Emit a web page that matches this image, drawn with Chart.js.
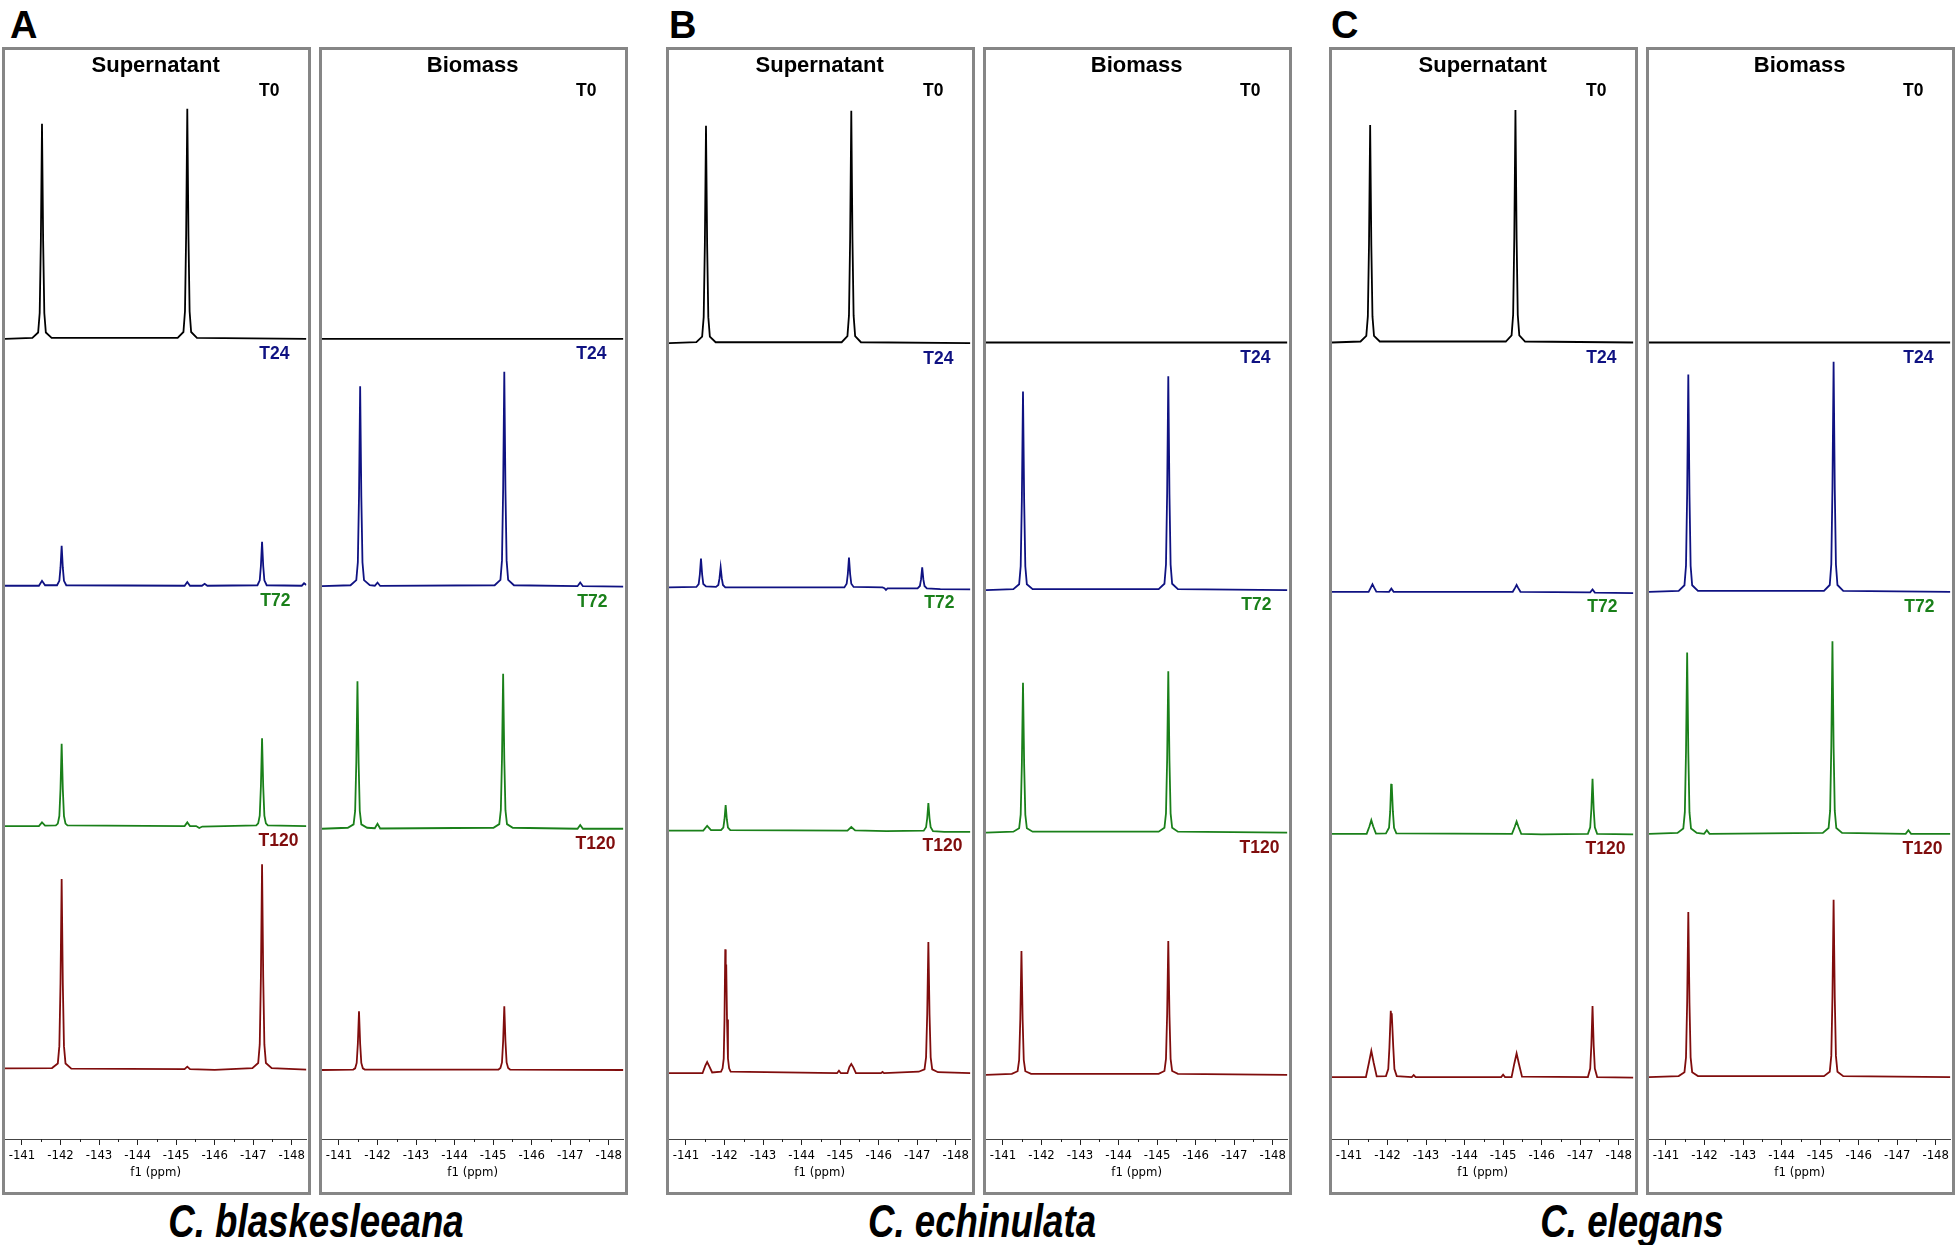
<!DOCTYPE html>
<html>
<head>
<meta charset="utf-8">
<title>19F NMR spectra - supernatant and biomass</title>
<script src="https://cdn.jsdelivr.net/npm/chart.js@4.4.1/dist/chart.umd.min.js"></script>
<style>
  html, body { margin: 0; padding: 0; background: #fff; }
  body { position: relative; width: 1960px; height: 1245px; overflow: hidden;
         font-family: 'Liberation Sans', Arial, sans-serif; }
  .panel { position: absolute; top: 47px; width: 303px; height: 1142px; border: 3px solid #868686; }
  .panel canvas { display: block; }
  .letter { position: absolute; top: 2px; font-size: 38px; font-weight: bold; line-height: 46px; }
  .species { position: absolute; top: 1197px; width: 500px; margin-left: -250px; text-align: center;
             font-size: 47px; font-weight: bold; font-style: italic; line-height: 48px;
             transform: scaleX(0.78); }
</style>
</head>
<body>
<script>
// axis
const ppmMin = -148.38, ppmMax = -140.56;
const majorTicks = [-141, -142, -143, -144, -145, -146, -147, -148];
const minorTicks = [-141.5, -142.5, -143.5, -144.5, -145.5, -146.5, -147.5];

const timeLabels = ['T0', 'T24', 'T72', 'T120'];
const fractionLabels = ['Supernatant', 'Biomass'];
const speciesNames = ['C. blaskesleeana', 'C. echinulata', 'C. elegans'];
const panelLetters = ['A', 'B', 'C'];

// spectra: [ppm, intensity] (intensity in units of one trace band)
// A - C. blaskesleeana
const aSupT0 = [[-140.56,0],[-141.27,.004],[-141.42,.026],[-141.46,.106],[-141.49,.397],[-141.52,.882],[-141.55,.397],[-141.58,.106],[-141.62,.026],[-141.77,.004],
  [-145.04,.004],[-145.19,.028],[-145.23,.113],[-145.26,.425],[-145.29,.944],[-145.32,.425],[-145.35,.113],[-145.39,.028],[-145.54,.004],[-148.38,0]];
const aSupT24 = [[-140.56,0],[-141.44,0],[-141.52,.02],[-141.6,.002],[-141.91,.002],[-141.97,.02],[-142.0,.074],[-142.03,.164],[-142.06,.074],[-142.09,.02],[-142.15,.002],
  [-145.22,0],[-145.29,.015],[-145.36,0],[-145.67,0],[-145.74,.008],[-145.81,0],
  [-147.11,.002],[-147.17,.022],[-147.2,.081],[-147.23,.18],[-147.26,.081],[-147.29,.022],[-147.35,.002],[-148.26,0],[-148.32,.01],[-148.38,.003]];
const aSupT72 = [[-140.56,0],[-141.44,0],[-141.52,.015],[-141.6,.002],[-141.88,.003],[-141.93,.01],[-141.97,.041],[-142.0,.152],[-142.03,.338],[-142.06,.152],[-142.09,.041],[-142.13,.01],[-142.18,.003],
  [-145.22,0],[-145.29,.015],[-145.36,0],[-145.52,0],[-145.6,-.008],[-145.68,-.002],
  [-147.08,.003],[-147.13,.011],[-147.17,.043],[-147.2,.162],[-147.23,.36],[-147.26,.162],[-147.29,.043],[-147.33,.011],[-147.38,.003],[-148.38,0]];
const aSupT120 = [[-140.56,.003],[-141.78,.004],[-141.93,.023],[-141.97,.094],[-142.0,.351],[-142.03,.78],[-142.06,.351],[-142.09,.094],[-142.13,.023],[-142.28,.002],
  [-145.22,0],[-145.29,.01],[-145.36,0],[-146.0,-.003],
  [-146.98,.004],[-147.13,.025],[-147.17,.101],[-147.2,.378],[-147.23,.84],[-147.26,.378],[-147.29,.101],[-147.33,.025],[-147.48,.004],[-148.38,-.002]];
const aBioT0 = [[-140.56,0],[-148.38,0]];
const aBioT24 = [[-140.56,0],[-141.30,.004],[-141.45,.025],[-141.49,.098],[-141.52,.369],[-141.55,.82],[-141.58,.369],[-141.61,.098],[-141.65,.025],[-141.8,.004],[-141.93,.002],[-142.0,.015],[-142.07,.001],
  [-145.04,.004],[-145.19,.026],[-145.23,.106],[-145.26,.396],[-145.29,.88],[-145.32,.396],[-145.35,.106],[-145.39,.026],[-145.54,.004],
  [-147.19,0],[-147.26,.015],[-147.33,0],[-148.38,-.002]];
const aBioT72 = [[-140.56,0],[-141.23,.004],[-141.38,.018],[-141.42,.073],[-141.45,.272],[-141.48,.605],[-141.51,.272],[-141.54,.073],[-141.58,.018],[-141.73,.004],[-141.93,.002],[-142.0,.02],[-142.07,.001],
  [-145.01,.004],[-145.16,.019],[-145.2,.076],[-145.23,.286],[-145.26,.636],[-145.29,.286],[-145.32,.076],[-145.36,.019],[-145.51,.004],
  [-147.19,0],[-147.26,.015],[-147.33,0],[-148.38,0]];
const aBioT120 = [[-140.56,0],[-141.37,.002],[-141.42,.007],[-141.46,.029],[-141.49,.108],[-141.52,.241],[-141.55,.108],[-141.58,.029],[-141.62,.007],[-141.67,.002],
  [-145.14,.002],[-145.19,.008],[-145.23,.031],[-145.26,.118],[-145.29,.262],[-145.32,.118],[-145.35,.031],[-145.39,.008],[-145.44,.002],[-148.38,0]];

// B - C. echinulata
const bSupT0 = [[-140.56,0],[-141.27,.004],[-141.42,.027],[-141.46,.107],[-141.49,.401],[-141.52,.892],[-141.55,.401],[-141.58,.107],[-141.62,.027],[-141.77,.004],
  [-145.04,.004],[-145.19,.029],[-145.23,.114],[-145.26,.429],[-145.29,.954],[-145.32,.429],[-145.35,.114],[-145.39,.029],[-145.54,.004],[-148.38,0]];
const bSupT24 = [[-140.56,0],[-141.27,.002],[-141.33,.014],[-141.36,.053],[-141.39,.118],[-141.42,.053],[-141.45,.014],[-141.52,.004],[-141.78,.002],[-141.84,.010],[-141.87,.037],[-141.90,.082],[-141.93,.037],[-141.96,.010],[-142.02,0],
  [-145.11,0],[-145.17,.015],[-145.2,.055],[-145.23,.123],[-145.26,.055],[-145.29,.015],[-145.35,.002],[-146.1,0],[-146.15,-.003],[-146.19,-.01],[-146.23,-.004],
  [-147.01,-.004],[-147.07,.006],[-147.10,.033],[-147.13,.082],[-147.16,.033],[-147.19,.006],[-147.25,-.004],[-147.6,-.007],[-148.38,-.008]];
const bSupT72 = [[-140.56,0],[-141.45,0],[-141.55,.02],[-141.65,.002],[-141.91,.002],[-141.97,.013],[-142.0,.047],[-142.03,.105],[-142.06,.047],[-142.09,.013],[-142.15,.002],
  [-145.19,0],[-145.29,.015],[-145.39,.001],[-146.2,-.002],
  [-147.17,0],[-147.23,.014],[-147.26,.051],[-147.29,.113],[-147.32,.051],[-147.35,.014],[-147.41,-.002],[-147.7,-.005],[-148.38,-.005]];
const bSupT120 = [[-140.56,0],[-141.43,0],[-141.5,.03],[-141.55,.046],[-141.6,.03],[-141.68,.003],[-141.91,.006],[-141.95,.02],[-141.98,.06],[-142.0,.22],[-142.02,.508],[-142.032,.41],[-142.045,.446],[-142.065,.22],[-142.09,.06],[-142.12,.02],[-142.16,.006],
  [-144.92,0],[-144.97,.01],[-145.02,0],[-145.19,0],[-145.24,.025],[-145.29,.038],[-145.34,.025],[-145.41,0],[-146.06,0],[-146.1,.005],[-146.14,0],
  [-147.04,.006],[-147.19,.016],[-147.23,.065],[-147.26,.242],[-147.29,.538],[-147.32,.242],[-147.35,.065],[-147.39,.016],[-147.54,.004],[-148.38,0]];
const bBioT0 = [[-140.56,0],[-148.38,0]];
const bBioT24 = [[-140.56,0],[-141.27,.004],[-141.42,.024],[-141.46,.098],[-141.49,.367],[-141.52,.815],[-141.55,.367],[-141.58,.098],[-141.62,.024],[-141.77,.004],
  [-145.04,.004],[-145.19,.026],[-145.23,.105],[-145.26,.395],[-145.29,.877],[-145.32,.395],[-145.35,.105],[-145.39,.026],[-145.54,.004],[-148.38,0]];
const bBioT72 = [[-140.56,0],[-141.27,.004],[-141.42,.018],[-141.46,.074],[-141.49,.277],[-141.52,.615],[-141.55,.277],[-141.58,.074],[-141.62,.018],[-141.77,.004],
  [-145.04,.004],[-145.19,.020],[-145.23,.079],[-145.26,.298],[-145.29,.662],[-145.32,.298],[-145.35,.079],[-145.39,.020],[-145.54,.004],[-148.38,0]];
const bBioT120 = [[-140.56,0],[-141.23,.004],[-141.38,.015],[-141.42,.061],[-141.45,.229],[-141.48,.508],[-141.51,.229],[-141.54,.061],[-141.58,.015],[-141.73,.004],
  [-145.04,.004],[-145.19,.016],[-145.23,.066],[-145.26,.247],[-145.29,.549],[-145.32,.247],[-145.35,.066],[-145.39,.016],[-145.54,.004],[-148.38,0]];

// C - C. elegans
const cSupT0 = [[-140.56,0],[-141.3,.004],[-141.45,.027],[-141.49,.107],[-141.52,.401],[-141.55,.892],[-141.58,.401],[-141.61,.107],[-141.65,.027],[-141.8,.004],
  [-145.07,.004],[-145.22,.029],[-145.26,.114],[-145.29,.429],[-145.32,.954],[-145.35,.429],[-145.38,.114],[-145.42,.029],[-145.57,.004],[-148.38,0]];
const cSupT24 = [[-140.56,0],[-141.51,0],[-141.57,.018],[-141.61,.031],[-141.65,.018],[-141.71,.001],[-142.04,0],[-142.1,.013],[-142.16,0],
  [-145.25,0],[-145.31,.016],[-145.35,.028],[-145.39,.016],[-145.45,0],[-147.26,-.002],[-147.32,.01],[-147.38,-.003],[-148.38,-.005]];
const cSupT72 = [[-140.56,0],[-141.46,0],[-141.53,.03],[-141.58,.056],[-141.63,.03],[-141.7,.001],[-141.96,.002],[-142.04,.025],[-142.07,.092],[-142.095,.205],[-142.105,.185],[-142.115,.2],[-142.14,.092],[-142.17,.025],[-142.23,.002],
  [-145.23,0],[-145.3,.028],[-145.35,.051],[-145.4,.028],[-145.47,0],[-146.0,-.002],
  [-147.2,0],[-147.26,.027],[-147.29,.102],[-147.32,.226],[-147.35,.102],[-147.38,.027],[-147.44,0],[-148.38,-.002]];
const cSupT120 = [[-140.56,0],[-141.44,0],[-141.52,.06],[-141.58,.108],[-141.64,.06],[-141.72,.003],[-141.96,.004],[-142.02,.033],[-142.05,.122],[-142.085,.272],[-142.1,.24],[-142.11,.262],[-142.15,.122],[-142.18,.033],[-142.24,.004],[-142.63,0],[-142.68,.008],[-142.73,0],
  [-144.95,0],[-145.0,.01],[-145.05,0],[-145.22,0],[-145.29,.055],[-145.35,.097],[-145.41,.055],[-145.49,.002],
  [-147.2,0],[-147.26,.035],[-147.29,.131],[-147.32,.292],[-147.35,.131],[-147.38,.035],[-147.44,0],[-148.38,-.002]];
const cBioT0 = [[-140.56,0],[-148.38,0]];
const cBioT24 = [[-140.56,0],[-141.33,.004],[-141.48,.027],[-141.52,.107],[-141.55,.401],[-141.58,.892],[-141.61,.401],[-141.64,.107],[-141.68,.027],[-141.83,.004],
  [-145.1,.004],[-145.25,.028],[-145.29,.113],[-145.32,.425],[-145.35,.944],[-145.38,.425],[-145.41,.113],[-145.45,.028],[-145.6,.004],[-148.38,0]];
const cBioT72 = [[-140.56,0],[-141.3,.004],[-141.45,.022],[-141.49,.089],[-141.52,.335],[-141.55,.744],[-141.58,.335],[-141.61,.089],[-141.65,.022],[-141.8,.004],[-141.99,0],[-142.06,.015],[-142.13,0],
  [-145.07,.004],[-145.22,.024],[-145.26,.095],[-145.29,.356],[-145.32,.79],[-145.35,.356],[-145.38,.095],[-145.42,.024],[-145.57,.004],[-147.22,0],[-147.29,.015],[-147.36,0],[-148.38,0]];
const cBioT120 = [[-140.56,0],[-141.33,.004],[-141.48,.02],[-141.52,.081],[-141.55,.305],[-141.58,.677],[-141.61,.305],[-141.64,.081],[-141.68,.02],[-141.83,.004],
  [-145.1,.004],[-145.25,.022],[-145.29,.087],[-145.32,.328],[-145.35,.728],[-145.38,.328],[-145.41,.087],[-145.45,.022],[-145.6,.004],[-148.38,0]];

// layout / style
const traceColors = ['#000000', '#0f1282', '#1a801a', '#800d0d'];
const labelInset = [27, 17, 16, 8];
const panelLeft = [2, 319, 666, 983, 1329, 1646];
const panelBase = [
  [3.283, 2.270, 1.284, 0.287], [3.283, 2.268, 1.273, 0.283],
  [3.265, 2.263, 1.265, 0.270], [3.268, 2.252, 1.257, 0.263],
  [3.268, 2.245, 1.252, 0.254], [3.268, 2.245, 1.252, 0.254]
];
const letterLeft = [10, 669, 1331];
const speciesCenter = [316, 982, 1632];
const tickFont = { family: "'DejaVu Sans Condensed', 'Liberation Sans Narrow', 'Liberation Sans', sans-serif", size: 13 };

const spectra = [
  [aSupT0, aSupT24, aSupT72, aSupT120], [aBioT0, aBioT24, aBioT72, aBioT120],
  [bSupT0, bSupT24, bSupT72, bSupT120], [bBioT0, bBioT24, bBioT72, bBioT120],
  [cSupT0, cSupT24, cSupT72, cSupT120], [cBioT0, cBioT24, cBioT72, cBioT120]
];

// panel title, trace labels and minor ticks
const panelText = {
  id: 'panelText',
  afterDraw(chart, args, opts) {
    const {ctx, chartArea: area, scales: {x, y}} = chart;
    ctx.save();
    ctx.strokeStyle = '#222';
    ctx.lineWidth = 1;
    minorTicks.forEach(v => {
      const px = Math.round(x.getPixelForValue(v)) + 0.5;
      ctx.beginPath();
      ctx.moveTo(px, area.bottom);
      ctx.lineTo(px, area.bottom + 3);
      ctx.stroke();
    });
    ctx.textBaseline = 'middle';
    ctx.textAlign = 'center';
    ctx.fillStyle = '#000';
    ctx.font = "bold 22px 'Liberation Sans', Arial, sans-serif";
    ctx.fillText(opts.title, (area.left + area.right) / 2, 16);
    ctx.font = "bold 17.5px 'Liberation Sans', Arial, sans-serif";
    ctx.textAlign = 'right';
    timeLabels.forEach((t, k) => {
      const ty = k === 0 ? 41 : y.getPixelForValue(opts.base[k - 1]) + 15.5;
      ctx.fillStyle = traceColors[k];
      ctx.fillText(t, area.right - labelInset[k], ty);
    });
    ctx.restore();
  }
};

spectra.forEach((traces, i) => {
  const box = document.createElement('div');
  box.className = 'panel';
  box.style.left = panelLeft[i] + 'px';
  const cv = document.createElement('canvas');
  cv.width = 303;
  cv.height = 1142;
  box.appendChild(cv);
  document.body.appendChild(box);
  const base = panelBase[i];

  new Chart(cv, {
    type: 'line',
    data: {
      datasets: traces.map((pts, k) => ({
        label: timeLabels[k],
        data: pts.map(p => ({x: p[0], y: p[1] + base[k]})),
        borderColor: traceColors[k],
        borderWidth: 1.8,
        pointRadius: 0,
        tension: 0,
        fill: false
      }))
    },
    options: {
      responsive: false,
      animation: false,
      events: [],
      layout: { padding: { top: 0, left: 0, right: 0, bottom: 11 } },
      plugins: {
        legend: { display: false },
        tooltip: { enabled: false },
        panelText: { title: fractionLabels[i % 2], base: base }
      },
      scales: {
        x: {
          type: 'linear',
          reverse: true,
          min: ppmMin,
          max: ppmMax,
          afterBuildTicks: s => { s.ticks = majorTicks.map(v => ({value: v})); },
          afterFit: s => { s.height = 42; },
          ticks: { autoSkip: false, maxRotation: 0, padding: 3, color: '#000', font: tickFont,
                   callback: v => String(v) },
          grid: { drawOnChartArea: false, drawTicks: true, tickLength: 6, tickColor: '#222' },
          border: { display: true, color: '#444', width: 1 },
          title: { display: true, text: 'f1 (ppm)', color: '#000', font: tickFont,
                   padding: { top: 0, bottom: 1 } }
        },
        y: { display: false, min: 0, max: 4.468 }
      }
    },
    plugins: [panelText]
  });
});

panelLetters.forEach((l, i) => {
  const d = document.createElement('div');
  d.className = 'letter';
  d.style.left = letterLeft[i] + 'px';
  d.textContent = l;
  document.body.appendChild(d);
});

speciesNames.forEach((s, i) => {
  const d = document.createElement('div');
  d.className = 'species';
  d.style.left = speciesCenter[i] + 'px';
  d.textContent = s;
  document.body.appendChild(d);
});
</script>
</body>
</html>
